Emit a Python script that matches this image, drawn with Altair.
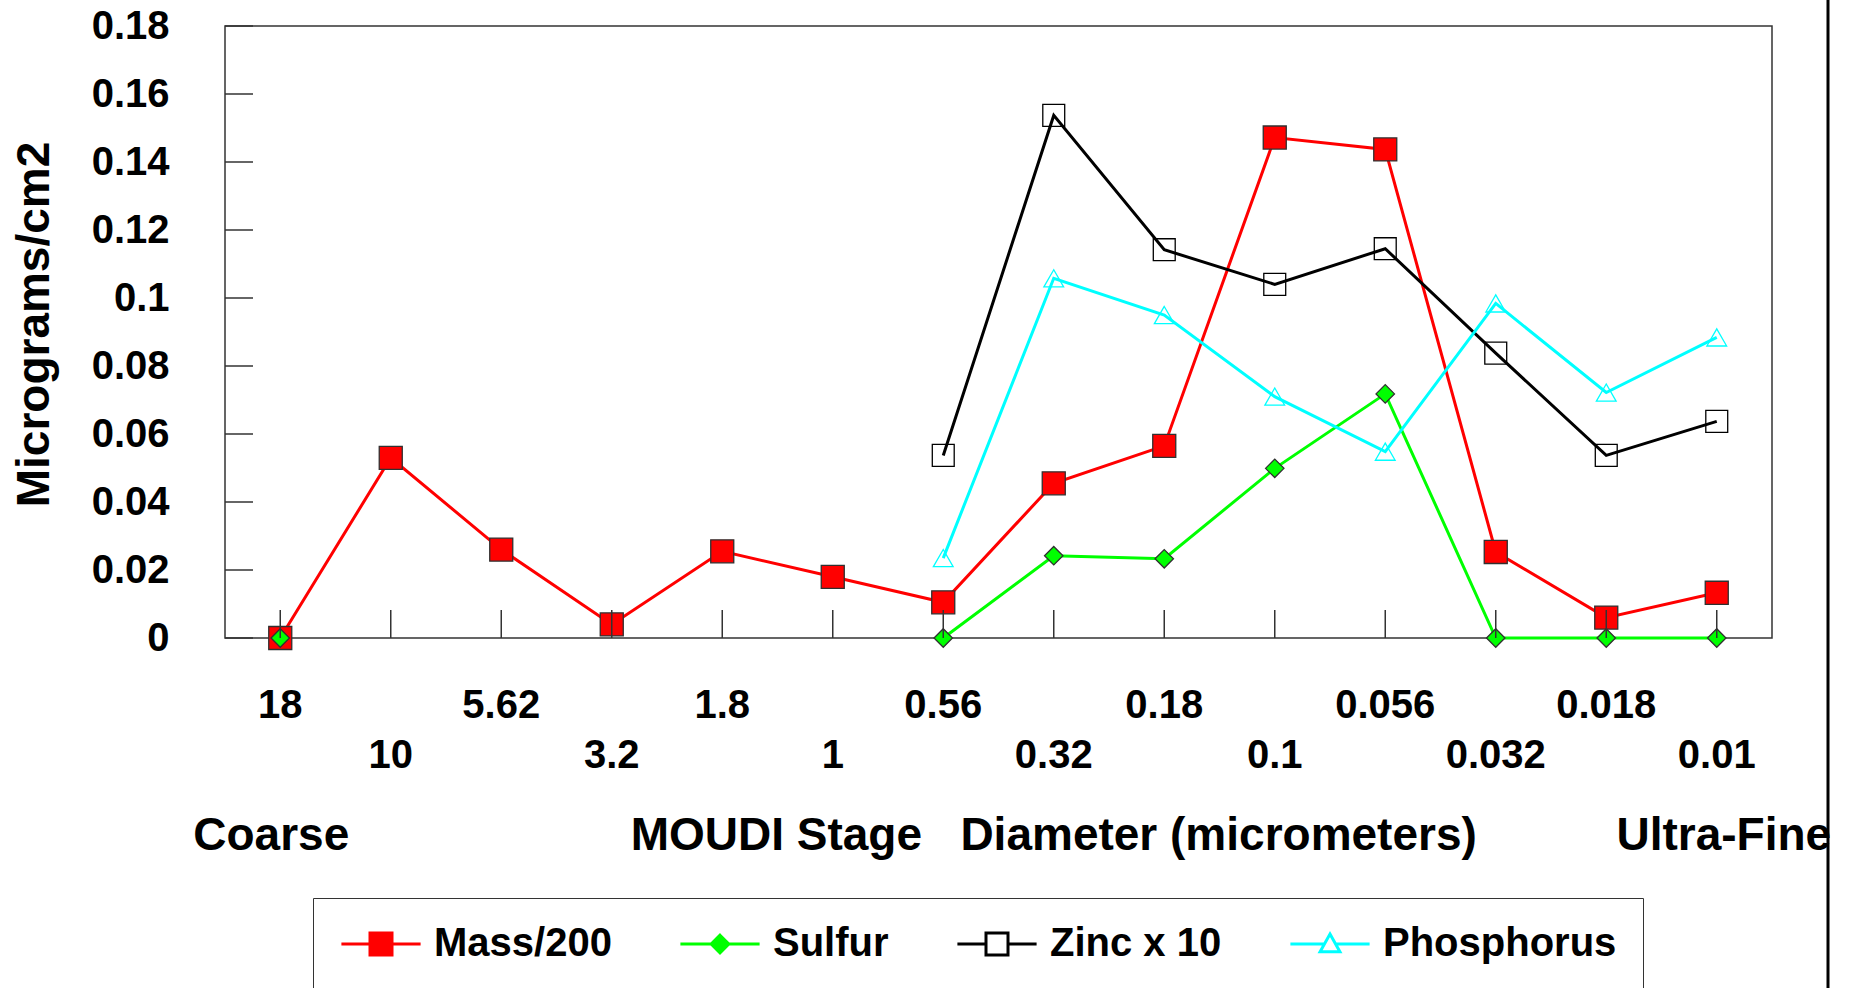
import altair as alt
import pandas as pd

FONT = "Liberation Sans"

# ---- data ----
CATS = ["18", "10", "5.62", "3.2", "1.8", "1", "0.56", "0.32", "0.18",
        "0.1", "0.056", "0.032", "0.018", "0.01"]
SECOND_ROW = ["10", "3.2", "1", "0.32", "0.1", "0.032", "0.01"]
SERIES = ["Mass/200", "Sulfur", "Zinc x 10", "Phosphorus"]
MASS = [0.0, 0.053, 0.026, 0.004, 0.0255, 0.018, 0.0105, 0.0455, 0.0565,
        0.1472, 0.1437, 0.0253, 0.006, 0.0133]
SULFUR = [0.0, None, None, None, None, None, 0.0, 0.0242, 0.0233,
          0.0499, 0.0718, 0.0, 0.0, 0.0]
ZINC = [None, None, None, None, None, None, 0.0537, 0.1537, 0.1142,
        0.1040, 0.1145, 0.0838, 0.0537, 0.0637]
PHOS = [None, None, None, None, None, None, 0.0235, 0.1058, 0.0950,
        0.0710, 0.0548, 0.0984, 0.0722, 0.0884]
Y_TICKS = [0, 0.02, 0.04, 0.06, 0.08, 0.1, 0.12, 0.14, 0.16, 0.18]
ANNOT_TEXT = ["Coarse", "MOUDI Stage\u00a0\u00a0\u00a0Diameter (micrometers)", "Ultra-Fine"]
ANNOT_AT = ["18", "0.32", "0.01"]

# ---- styles ----
LINE_COLORS = ["#ff0000", "#00ff00", "#000000", "#00ffff"]
MARK_FILLS = ["#ff0000", "#00ff00", "transparent", "transparent"]
MARK_STROKES = ["#303030", "#303030", "#000000", "#00ffff"]
MARK_SHAPES = ["square", "diamond", "square", "triangle-up"]
MARK_SIZES = [530, 340, 480, 390]
LEG_FILLS = ["#ff0000", "#00ff00", "#ffffff", "#ffffff"]
LEG_PATHS = [
    "M-3.6,0H3.6M-1,-1H1V1H-1Z",
    "M-3.6,0H3.6M0,-0.8L0.8,0L0,0.8L-0.8,0Z",
    "M-3.6,0H-1M1,0H3.6M-1,-1H1V1H-1Z",
    "M-3.6,0H-0.5M0.5,0H3.6M0,-0.9L0.9,0.7H-0.9Z",
]
ANNOT_DX = {"Coarse": -9, "Ultra-Fine": 7}

rows = []
for s, vals in zip(SERIES, [MASS, SULFUR, ZINC, PHOS]):
    for i, (c, v) in enumerate(zip(CATS, vals)):
        rows.append({"series": s, "cat": c, "idx": i, "value": v})
df = pd.DataFrame(rows)

second_row = "[" + ",".join(f"'{c}'" for c in SECOND_ROW) + "]"

x_enc = alt.X(
    "cat:N", sort=CATS, scale=alt.Scale(domain=CATS), title=None,
    axis=alt.Axis(
        labelExpr=f"indexof({second_row}, datum.value) >= 0 ? ['', datum.label] : datum.label",
        labelFont=FONT, labelFontSize=40, labelFontWeight="bold", labelColor="black",
        labelAngle=0, labelBaseline="top", labelLineHeight=50, labelPadding=47,
        labelOverlap=False, ticks=False, domain=False, grid=False,
    ),
)
y_enc = alt.Y(
    "value:Q", scale=alt.Scale(domain=[0, 0.18], nice=False, zero=True),
    title="Micrograms/cm2",
    axis=alt.Axis(
        values=Y_TICKS, format=".2~f", labelFont=FONT, labelFontSize=40,
        labelFontWeight="bold", labelColor="black", labelPadding=56,
        labelOverlap=False, ticks=False, domain=False, grid=False,
        titleFont=FONT, titleFontSize=46, titleFontWeight="bold", titleColor="black",
        titleAngle=270, titleBaseline="alphabetic", titleX=-177, titleY=298,
        titleAlign="center",
    ),
)

legend = alt.Legend(
    orient="none", legendX=88, legendY=872, direction="horizontal", columns=4,
    title=None, labelFont=FONT, labelFontSize=40, labelFontWeight="bold",
    labelColor="black", labelLimit=400, labelOffset=33, symbolOffset=22,
    symbolSize=484, symbolStrokeWidth=3, symbolOpacity=1, columnPadding=62,
    padding=26, strokeColor="#333333", fillColor="white",
)

layers = []
for s, col in zip(SERIES, LINE_COLORS):
    layers.append(
        alt.Chart(df).transform_filter(alt.datum.series == s).mark_line(
            color=col, strokeWidth=3, invalid="break-paths-show-domains"
        ).encode(x=x_enc, y=y_enc, order=alt.Order("idx:Q"))
    )
for s, shp, fil, stk, sz in zip(SERIES, MARK_SHAPES, MARK_FILLS, MARK_STROKES, MARK_SIZES):
    layers.append(
        alt.Chart(df).transform_filter(
            f"datum.series === '{s}' && isValid(datum.value)"
        ).mark_point(
            shape=shp, size=sz, filled=True, fill=fil, stroke=stk,
            strokeWidth=1.3, opacity=1,
        ).encode(x=x_enc, y=y_enc)
    )

# legend-only layer (no rows drawn)
layers.append(
    alt.Chart(df).transform_filter("false").mark_point(opacity=1, strokeWidth=3).encode(
        x=x_enc, y=y_enc,
        shape=alt.Shape("series:N", scale=alt.Scale(domain=SERIES, range=LEG_PATHS), legend=legend),
        fill=alt.Fill("series:N", scale=alt.Scale(domain=SERIES, range=LEG_FILLS), legend=legend),
        stroke=alt.Stroke("series:N", scale=alt.Scale(domain=SERIES, range=LINE_COLORS), legend=legend),
    )
)

layers.append(
    alt.Chart(pd.DataFrame({"cat": CATS})).mark_rule(color="#333333", strokeWidth=1.5).encode(
        x=x_enc, y=alt.value(612), y2=alt.value(584)
    )
)
layers.append(
    alt.Chart(pd.DataFrame({"value": Y_TICKS})).mark_rule(color="#333333", strokeWidth=1.5).encode(
        y=y_enc, x=alt.value(0), x2=alt.value(28)
    )
)
for txt, at in zip(ANNOT_TEXT, ANNOT_AT):
    layers.append(
        alt.Chart(pd.DataFrame({"cat": [at], "label": [txt]})).mark_text(
            font=FONT, fontSize=46, fontWeight="bold", color="black",
            align="center", baseline="middle", dx=ANNOT_DX.get(txt, 0),
        ).encode(x=x_enc, y=alt.value(810), text="label:N")
    )
layers.append(
    alt.Chart(pd.DataFrame({"a": [0]})).mark_rule(color="black", strokeWidth=3).encode(
        x=alt.value(1603), y=alt.value(-26), y2=alt.value(962)
    )
)

chart = alt.layer(*layers).properties(
    width=1547, height=612,
    padding={"left": 225, "top": 26, "right": 81, "bottom": 350},
    autosize=alt.AutoSizeParams(type="none"),
).configure(font=FONT).configure_view(stroke="#333333", strokeWidth=1.5)

chart.save("out.html", embed_options={"renderer": "svg", "actions": False})
